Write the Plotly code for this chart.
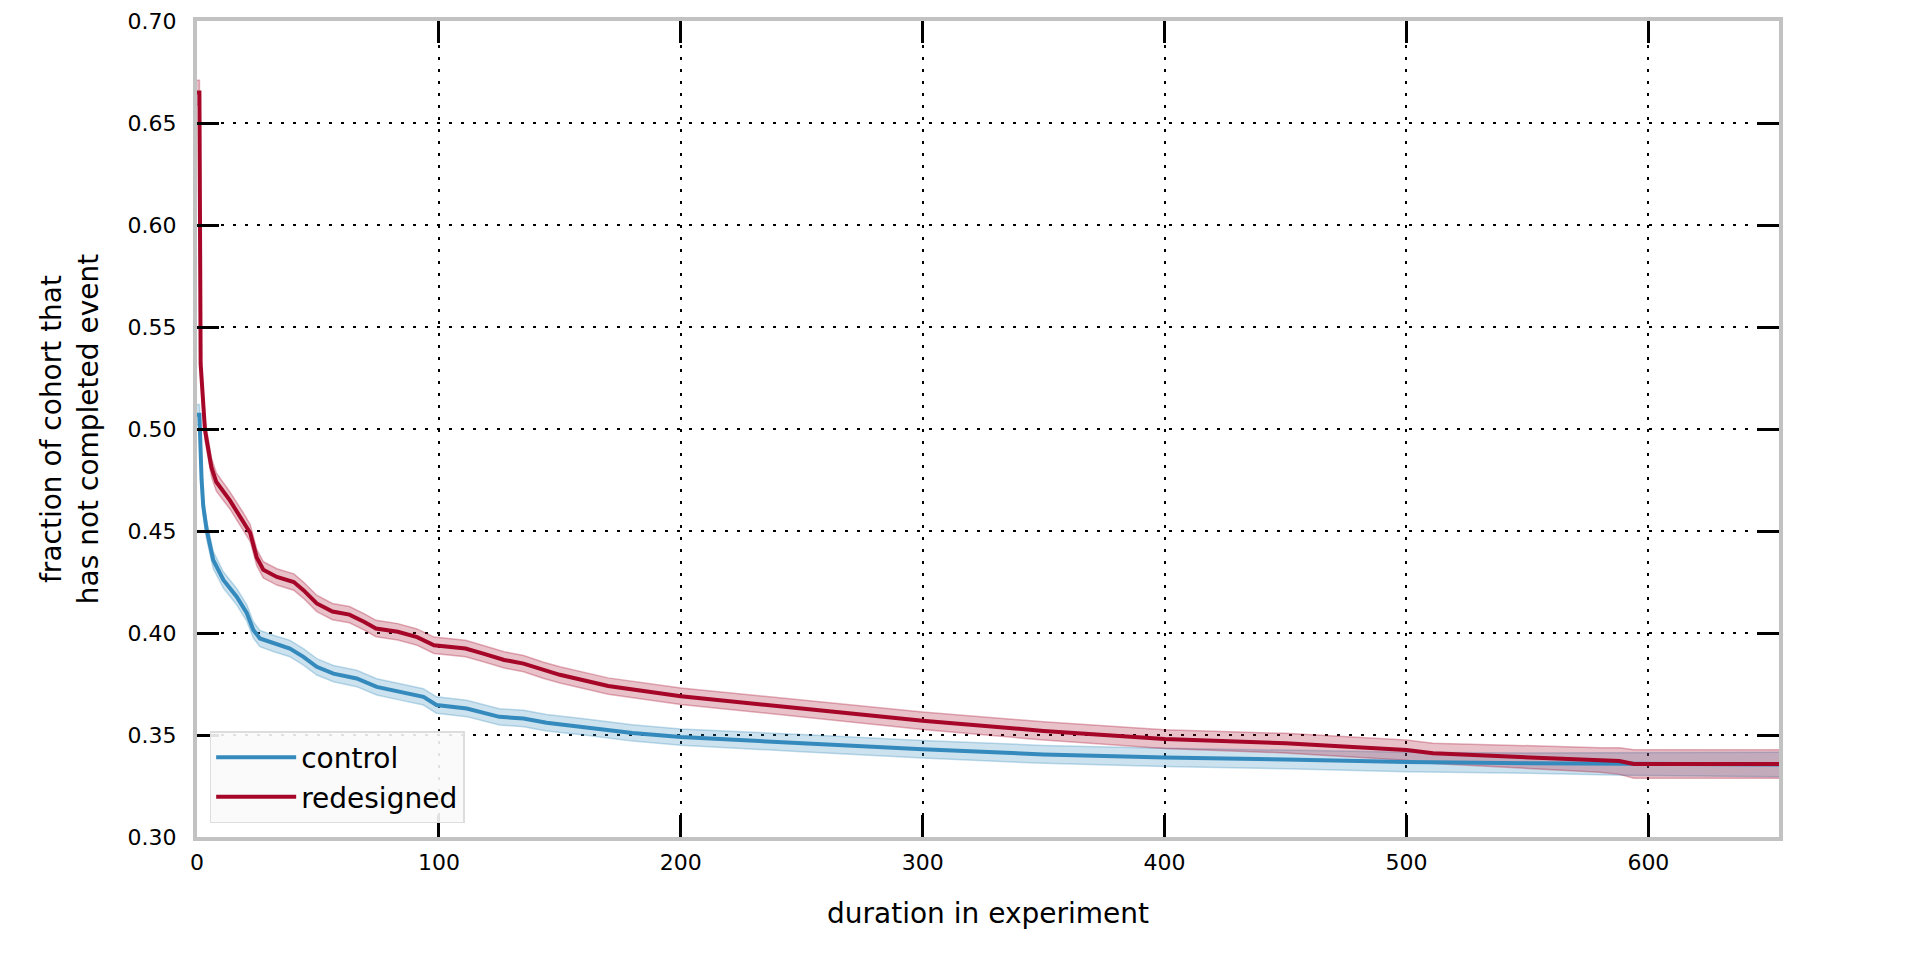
import plotly.graph_objects as go

# ---- data ----
red_x = [0, 1, 1.5, 2.5, 3.3, 6, 8, 13.6, 19, 22, 24.7, 27.4, 33, 40, 44, 49.5, 56, 63, 69, 74,
         83, 91, 98, 111, 118, 127, 135, 143, 150, 170, 200, 250, 300, 350, 400, 450, 500, 511,
         552, 580, 588, 594, 654]
red_y = [0.665, 0.665, 0.532, 0.51, 0.4995, 0.481, 0.474, 0.465, 0.455, 0.449, 0.437, 0.431,
         0.4275, 0.425, 0.421, 0.4145, 0.4105, 0.409, 0.4055, 0.4022, 0.4006, 0.398, 0.394,
         0.3924, 0.39, 0.3868, 0.385, 0.3818, 0.3795, 0.374, 0.369, 0.363, 0.357, 0.352, 0.348,
         0.346, 0.3426, 0.341, 0.339, 0.3378, 0.3372, 0.3358, 0.3358]
red_ci = [0.006, 0.006, 0.006, 0.005, 0.005, 0.0045, 0.0045, 0.0042, 0.0042, 0.0042, 0.004,
          0.004, 0.004, 0.004, 0.004, 0.004, 0.004, 0.004, 0.004, 0.004, 0.004, 0.004, 0.004,
          0.004, 0.004, 0.004, 0.004, 0.004, 0.004, 0.004, 0.004, 0.0042, 0.0043, 0.0045,
          0.0046, 0.0048, 0.005, 0.005, 0.0055, 0.006, 0.0065, 0.007, 0.007]

blue_x = [0, 1, 1.9, 2.6, 4, 6.7, 10.9, 16.4, 20.5, 23.3, 26, 31.5, 38.4, 44, 49.5, 56.4, 66,
          74.3, 84, 93.6, 99, 111.5, 125, 135, 144.5, 160, 180, 200, 250, 300, 350, 400, 450,
          500, 550, 590, 654]
blue_y = [0.507, 0.507, 0.475, 0.462, 0.4505, 0.4358, 0.426, 0.4178, 0.41, 0.4015, 0.3973,
          0.3949, 0.3924, 0.3883, 0.3834, 0.3801, 0.3777, 0.3736, 0.3711, 0.3687, 0.3647,
          0.363, 0.3589, 0.3581, 0.356, 0.354, 0.351, 0.349, 0.346, 0.343, 0.3405, 0.339,
          0.338, 0.3368, 0.3362, 0.3358, 0.3355]
blue_ci = [0.005, 0.005, 0.005, 0.0045, 0.0045, 0.0042, 0.004, 0.004, 0.004, 0.004, 0.004,
           0.004, 0.004, 0.004, 0.004, 0.004, 0.004, 0.004, 0.004, 0.004, 0.004, 0.004, 0.004,
           0.004, 0.004, 0.004, 0.004, 0.004, 0.0042, 0.0043, 0.0044, 0.0045, 0.0046, 0.0048,
           0.005, 0.0055, 0.006]

series = [
    ("control", blue_x, blue_y, blue_ci, "52,138,189"),
    ("redesigned", red_x, red_y, red_ci, "166,6,40"),
]

x_ticks = [0, 100, 200, 300, 400, 500, 600]
y_ticks = [0.30, 0.35, 0.40, 0.45, 0.50, 0.55, 0.60, 0.65, 0.70]

FONT = "DejaVu Sans"

fig = go.Figure()
for name, xs, ys, ci, rgb in series:
    upper = [y + c for y, c in zip(ys, ci)]
    lower = [y - c for y, c in zip(ys, ci)]
    fig.add_trace(go.Scatter(x=xs, y=upper, mode="lines", showlegend=False, hoverinfo="skip",
                             line=dict(color=f"rgba({rgb},0.30)", width=1.5)))
    fig.add_trace(go.Scatter(x=xs, y=lower, mode="lines", showlegend=False, hoverinfo="skip",
                             fill="tonexty", fillcolor=f"rgba({rgb},0.25)",
                             line=dict(color=f"rgba({rgb},0.30)", width=1.5)))
for name, xs, ys, ci, rgb in series:
    fig.add_trace(go.Scatter(x=xs, y=ys, mode="lines", name=name,
                             line=dict(color=f"rgb({rgb})", width=4)))

axis_common = dict(
    showline=True, linecolor="#c2c2c2", linewidth=4, mirror="allticks",
    ticks="inside", ticklen=22, tickwidth=2.5, tickcolor="black",
    showgrid=True, gridcolor="black", gridwidth=2, griddash="3px,9px",
    zeroline=False, tickfont=dict(family=FONT, size=22, color="black"),
)

fig.update_xaxes(range=[0, 654], tickvals=x_ticks, ticklabelstandoff=3,
                 title=dict(text="duration in experiment", standoff=30,
                            font=dict(family=FONT, size=28, color="black")),
                 **axis_common)
fig.update_yaxes(range=[0.30, 0.70], tickvals=y_ticks, tickformat=".2f", ticklabelstandoff=12,
                 title=dict(text="fraction of cohort that<br>has not completed event", standoff=22,
                            font=dict(family=FONT, size=28, color="black")),
                 **axis_common)

fig.update_layout(
    width=1920, height=960,
    margin=dict(l=197, r=141, t=21, b=123, autoexpand=False),
    paper_bgcolor="white", plot_bgcolor="white",
    font=dict(family=FONT, color="black"),
    legend=dict(x=0.008, y=0.017, xanchor="left", yanchor="bottom", traceorder="normal",
                bgcolor="rgba(250,250,250,0.9)", bordercolor="#dddddd", borderwidth=1.5,
                font=dict(family=FONT, size=28, color="black"), itemwidth=80),
    annotations=[dict(text="Survival curves for time to completion (control vs new)",
                      xref="paper", yref="paper", x=0.5, y=1.0235, xanchor="center",
                      yanchor="bottom", showarrow=False,
                      font=dict(family=FONT, size=28, color="black"))],
)

fig.write_html("out.html")
